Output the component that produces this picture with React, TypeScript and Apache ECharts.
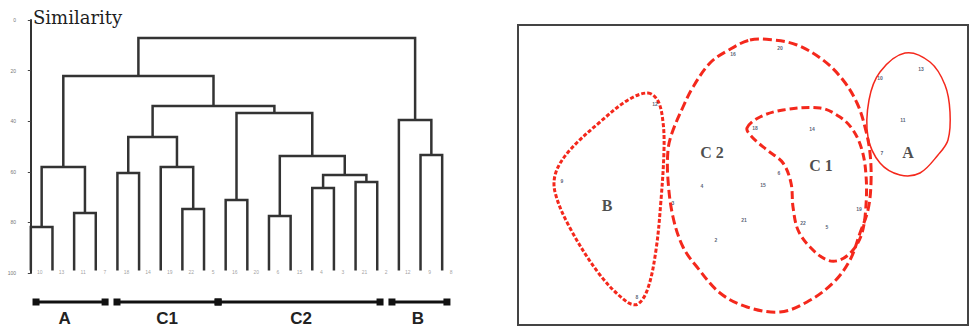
import React, { useEffect, useRef } from "react";
import * as echarts from "echarts";

// ---------- Dendrogram data ----------
const leafLabels = ["10", "13", "11", "7", "18", "14", "19", "22", "5", "16", "20", "6", "15", "4", "3", "21", "2", "12", "9", "8"];
const leafBase = 99;
// merges: [left id, right id, similarity level]; ids 0..19 are leaves, 20.. merges in order
const mergeLeft = [0, 2, 20, 4, 7, 6, 23, 9, 11, 13, 15, 29, 28, 27, 26, 22, 18, 17, 35];
const mergeRight = [1, 3, 21, 5, 8, 24, 25, 10, 12, 14, 16, 30, 31, 32, 33, 34, 19, 36, 37];
const mergeLevel = [81.8, 76.3, 58.1, 60.5, 74.7, 58.1, 46.2, 71.1, 77.5, 66.4, 64.0, 61.3, 53.8, 36.8, 34.0, 22.1, 53.4, 39.5, 7.1];
const yTicks = [0, 20, 40, 60, 80, 100];

const clusterNames = ["A", "C1", "C2", "B"];
const clusterBarFrom = [0.24, 3.98, 8.65, 16.68];
const clusterBarTo = [3.43, 8.65, 16.13, 19.22];
const clusterLabelAt = [1.56, 6.29, 12.48, 17.88];

// ---------- MDS data ----------
const mdsNames = ["12", "9", "8", "16", "20", "18", "14", "10", "13", "11", "7", "6", "15", "4", "3", "21", "2", "19", "22", "5"];
const mdsDim1 = [-0.88, -1.81, -1.06, -0.10, 0.37, 0.12, 0.69, 1.37, 1.78, 1.60, 1.39, 0.36, 0.20, -0.41, -0.70, 0.01, -0.27, 1.16, 0.60, 0.84];
const mdsDim2 = [0.71, -0.06, -1.22, 1.21, 1.27, 0.47, 0.46, 0.97, 1.06, 0.55, 0.22, 0.02, -0.10, -0.11, -0.28, -0.45, -0.65, -0.34, -0.48, -0.52];

const groupLabelNames = ["B", "C 2", "C 1", "A"];
const groupLabelDim1 = [-1.36, -0.31, 0.78, 1.65];
const groupLabelDim2 = [-0.30, 0.23, 0.10, 0.23];

const outlineB: number[][] = [
  [-0.95, 0.82], [-0.85, 0.74], [-0.80, 0.53], [-0.79, 0.25], [-0.82, -0.25], [-0.87, -0.75],
  [-0.95, -1.13], [-1.05, -1.29], [-1.16, -1.27], [-1.43, -1.00], [-1.73, -0.53], [-1.88, -0.17],
  [-1.87, 0.03], [-1.73, 0.25], [-1.43, 0.53], [-1.15, 0.75],
];
const outlineC2: number[][] = [
  [0.07, 1.35], [0.30, 1.35], [0.54, 1.30], [0.80, 1.15], [1.00, 0.95], [1.14, 0.72], [1.22, 0.48],
  [1.27, 0.22], [1.28, -0.08], [1.25, -0.35], [1.17, -0.58], [1.07, -0.85], [0.90, -1.08],
  [0.64, -1.27], [0.37, -1.37], [0.04, -1.32], [-0.23, -1.18], [-0.46, -0.92], [-0.60, -0.72],
  [-0.70, -0.42], [-0.75, -0.05], [-0.75, 0.25], [-0.71, 0.42], [-0.60, 0.68], [-0.50, 0.88],
  [-0.33, 1.12], [-0.16, 1.24],
];
const outlineC1: number[][] = [
  [0.04, 0.47], [0.17, 0.58], [0.40, 0.65], [0.77, 0.67], [0.97, 0.58], [1.10, 0.45], [1.19, 0.25],
  [1.23, 0.00], [1.23, -0.30], [1.19, -0.58], [1.10, -0.75], [0.97, -0.85], [0.84, -0.85],
  [0.67, -0.72], [0.55, -0.55], [0.50, -0.32], [0.48, -0.08], [0.40, 0.12], [0.24, 0.25], [0.09, 0.38],
];
const outlineA: number[][] = [
  [1.62, 1.22], [1.87, 1.13], [2.02, 0.90], [2.07, 0.63], [2.05, 0.35], [1.95, 0.20], [1.77, 0.02],
  [1.57, 0.00], [1.37, 0.12], [1.25, 0.38], [1.26, 0.75], [1.37, 1.03],
];

const RED = "#f4281c";
const CLEAR = "rgba(0,0,0,0)";

function outlineSeries(points: number[][], lineWidth: number, dash: number[] | null) {
  return {
    type: "custom",
    coordinateSystem: "cartesian2d",
    xAxisIndex: 1,
    yAxisIndex: 1,
    silent: true,
    data: [[0, 0]],
    renderItem: (_p: any, api: any) => ({
      type: "polygon",
      shape: { points: points.map((pt) => api.coord(pt)), smooth: 0.35 },
      style: { fill: "none", stroke: RED, lineWidth, lineDash: dash || undefined },
    }),
  };
}

export default function App() {
  const ref = useRef<HTMLDivElement>(null);

  useEffect(() => {
    const chart = echarts.init(ref.current!, null, { renderer: "svg" });

    const nodeX: number[] = leafLabels.map((_, i) => i);
    const nodeY: number[] = leafLabels.map(() => leafBase);
    const linkData: any[] = [];
    mergeLeft.forEach((l, k) => {
      const r = mergeRight[k];
      const h = mergeLevel[k];
      linkData.push({
        coords: [
          [nodeX[l], nodeY[l]],
          [nodeX[l], h],
          [nodeX[r], h],
          [nodeX[r], nodeY[r]],
        ],
      });
      nodeX.push((nodeX[l] + nodeX[r]) / 2);
      nodeY.push(h);
    });

    const option: any = {
      animation: false,
      backgroundColor: "#ffffff",
      grid: [
        { left: 20, top: 20, width: 433, height: 253, show: false },
        { left: 518, top: 25, width: 450, height: 300, show: true, borderColor: "#444", borderWidth: 2, backgroundColor: "transparent" },
      ],
      xAxis: [
        { type: "value", gridIndex: 0, min: -0.5, max: 19.5, show: false },
        { type: "value", gridIndex: 1, min: -2.25, max: 2.25, show: false },
      ],
      yAxis: [
        {
          type: "value",
          gridIndex: 0,
          min: 0,
          max: 100,
          interval: 20,
          inverse: true,
          axisLine: { show: true, lineStyle: { color: "#333", width: 2 } },
          axisTick: { show: true, length: 3, lineStyle: { color: "#444", width: 1 } },
          axisLabel: {
            fontSize: 5,
            color: "#777",
            margin: 4,
            formatter: (v: number) => (yTicks.indexOf(v) >= 0 ? String(v) : ""),
          },
          splitLine: { show: false },
        },
        { type: "value", gridIndex: 1, min: -1.5, max: 1.5, show: false },
      ],
      series: [
        {
          type: "lines",
          coordinateSystem: "cartesian2d",
          xAxisIndex: 0,
          yAxisIndex: 0,
          polyline: true,
          silent: true,
          data: linkData,
          lineStyle: { color: "#333", width: 2.5, opacity: 1 },
        },
        {
          type: "scatter",
          xAxisIndex: 0,
          yAxisIndex: 0,
          symbolSize: 1,
          itemStyle: { color: CLEAR },
          silent: true,
          data: leafLabels.map((n, i) => ({ name: n, value: [i, leafBase] })),
          label: { show: true, formatter: "{b}", fontSize: 5, color: "#8a8a8a", position: "inside", offset: [9, 2], fontFamily: "Liberation Sans" },
        },
        outlineSeries(outlineC2, 3, [9, 4]),
        outlineSeries(outlineC1, 3, [8, 4]),
        outlineSeries(outlineB, 3, [4, 2]),
        outlineSeries(outlineA, 1.5, null),
        {
          type: "scatter",
          xAxisIndex: 1,
          yAxisIndex: 1,
          symbolSize: 1,
          itemStyle: { color: CLEAR },
          silent: true,
          data: mdsNames.map((n, i) => ({ name: n, value: [mdsDim1[i], mdsDim2[i]] })),
          label: { show: true, formatter: "{b}", fontSize: 5, color: "#2c3652", position: "inside", fontFamily: "Liberation Sans", fontWeight: "bold" },
        },
        {
          type: "scatter",
          xAxisIndex: 1,
          yAxisIndex: 1,
          symbolSize: 1,
          itemStyle: { color: CLEAR },
          silent: true,
          data: groupLabelNames.map((n, i) => ({ name: n, value: [groupLabelDim1[i], groupLabelDim2[i]] })),
          label: { show: true, formatter: "{b}", fontSize: 16, color: "#1e1e1e", position: "inside", fontFamily: "Liberation Serif", fontWeight: "bold" },
        },
      ],
    };
    chart.setOption(option);

    const gfx: any[] = [
      {
        type: "text",
        x: 33,
        y: 8,
        style: { text: "Similarity", font: '18px "DejaVu Serif"', fill: "#1e1e1e" },
      },
    ];
    const barY = 302;
    clusterNames.forEach((name, i) => {
      const p1 = chart.convertToPixel({ gridIndex: 0 }, [clusterBarFrom[i], 100]) as number[];
      const p2 = chart.convertToPixel({ gridIndex: 0 }, [clusterBarTo[i], 100]) as number[];
      const pl = chart.convertToPixel({ gridIndex: 0 }, [clusterLabelAt[i], 100]) as number[];
      gfx.push({ type: "line", shape: { x1: p1[0], y1: barY, x2: p2[0], y2: barY }, style: { stroke: "#111", lineWidth: 3 } });
      gfx.push({ type: "rect", shape: { x: p1[0] - 3.5, y: barY - 3.5, width: 7, height: 7 }, style: { fill: "#111" } });
      gfx.push({ type: "rect", shape: { x: p2[0] - 3.5, y: barY - 3.5, width: 7, height: 7 }, style: { fill: "#111" } });
      gfx.push({
        type: "text",
        x: pl[0],
        y: 318,
        style: { text: name, font: 'bold 17px "Liberation Sans"', fill: "#222", align: "center", verticalAlign: "middle" },
      });
    });
    chart.setOption({ graphic: gfx });

    return () => chart.dispose();
  }, []);

  return (
    <div
      ref={ref}
      style={{ position: "absolute", left: 0, top: 0, width: 970, height: 329, background: "#fff" }}
    />
  );
}
